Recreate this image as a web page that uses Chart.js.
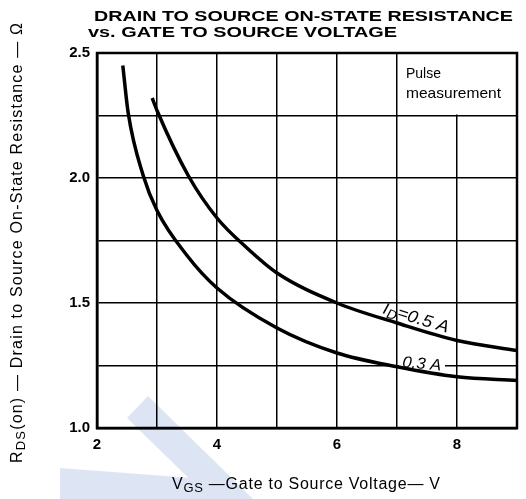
<!DOCTYPE html>
<html><head><meta charset="utf-8">
<script src="https://cdn.jsdelivr.net/npm/chart.js@4/dist/chart.umd.min.js"></script>
<style>html,body{margin:0;padding:0;background:#fff;}#wrap{width:526px;height:499px;}</style>
</head><body><div id="wrap"><canvas id="c" width="526" height="499"></canvas></div>
<script>
// ---- data ----
const vgs03 = [2.43, 2.52, 2.77, 3.0, 3.5, 4.0, 5.0, 6.0, 7.0, 8.0, 9.0];
const rds03 = [2.45, 2.26, 2.01, 1.87, 1.69, 1.56, 1.40, 1.30, 1.245, 1.205, 1.19];
const vgs05 = [2.92, 3.0, 3.52, 4.0, 4.5, 5.0, 6.0, 7.0, 8.0, 9.0];
const rds05 = [2.32, 2.27, 2.01, 1.84, 1.72, 1.62, 1.50, 1.42, 1.35, 1.31];
const xTickLabels = [2, 4, 6, 8];
const yTickLabels = [1.0, 1.5, 2.0, 2.5];
const titleLines = ['DRAIN TO SOURCE ON-STATE RESISTANCE', 'vs. GATE TO SOURCE VOLTAGE'];
const noteLines = ['Pulse', 'measurement'];
const seriesNames = ['0.3 A', '0.5 A'];

const FF = '"Liberation Sans", Arial, Helvetica, sans-serif';

// draw text pieces; width fitted either by horizontal scaling or by letter spacing
function drawParts(ctx, parts, x, y, targetW, mode) {
  ctx.letterSpacing = '0px';
  let nat = 0, n = 0;
  parts.forEach(p => { ctx.font = p.font; nat += ctx.measureText(p.t).width; n += p.t.length; });
  ctx.save();
  ctx.translate(x, y);
  if (mode === 'scale' && targetW) {
    ctx.scale(targetW / nat, 1);
  } else if (targetW) {
    ctx.letterSpacing = ((targetW - nat) / Math.max(1, n - 1)) + 'px';
  }
  let cx = 0;
  parts.forEach(p => { ctx.font = p.font; ctx.fillText(p.t, cx, p.dy || 0); cx += ctx.measureText(p.t).width; });
  ctx.letterSpacing = '0px';
  ctx.restore();
}

const decor = {
  id: 'decor',
  beforeDraw(chart) {
    const ctx = chart.ctx;
    ctx.save();
    ctx.fillStyle = '#fff';
    ctx.fillRect(0, 0, chart.width, chart.height);
    // faint watermark
    ctx.fillStyle = '#dde5f4';
    ctx.beginPath();
    ctx.moveTo(127, 418); ctx.lineTo(148, 396); ctx.lineTo(253, 499); ctx.lineTo(210, 499); ctx.closePath(); ctx.fill();
    ctx.beginPath();
    ctx.moveTo(60, 468); ctx.lineTo(192, 478); ctx.lineTo(213, 499); ctx.lineTo(60, 499); ctx.closePath(); ctx.fill();
    ctx.restore();
  },
  beforeDatasetsDraw(chart) {
    const ctx = chart.ctx, a = chart.chartArea, xs = chart.scales.x, ys = chart.scales.y;
    ctx.save();
    ctx.fillStyle = '#fff';
    ctx.fillRect(xs.getPixelForValue(7) + 1, a.top + 1, a.right - xs.getPixelForValue(7) - 2, ys.getPixelForValue(2.25) - a.top - 2);
    ctx.fillRect(399, 353, 46, 15);
    ctx.strokeStyle = '#000';
    ctx.lineWidth = 2.5;
    ctx.strokeRect(a.left, a.top, a.right - a.left, a.bottom - a.top);
    ctx.fillStyle = '#000';
    ctx.textBaseline = 'alphabetic';
    ctx.textAlign = 'left';
    // title
    drawParts(ctx, [{t: titleLines[0], font: 'bold 15px ' + FF}], 94, 21, 419, 'scale');
    drawParts(ctx, [{t: titleLines[1], font: 'bold 15px ' + FF}], 88, 37, 309, 'scale');
    // note
    drawParts(ctx, [{t: noteLines[0], font: '15px ' + FF}], 406, 78, 35, 'scale');
    drawParts(ctx, [{t: noteLines[1], font: '15px ' + FF}], 406, 98, 95, 'scale');
    // x axis title
    drawParts(ctx, [
      {t: 'V', font: '16px ' + FF},
      {t: 'GS', font: '13px ' + FF, dy: 3},
      {t: ' \u2014Gate to Source Voltage\u2014 V', font: '16px ' + FF}
    ], 172, 489, 268);
    // y axis title
    ctx.save();
    ctx.translate(16, 463);
    ctx.rotate(-Math.PI / 2);
    drawParts(ctx, [
      {t: 'R', font: '16px ' + FF},
      {t: 'DS', font: '13px ' + FF, dy: 3},
      {t: '(on) \u2014 Drain to Source On-State Resistance \u2014 \u03A9', font: '16px ' + FF}
    ], 0, 6, 440);
    ctx.restore();
    // series labels
    ctx.save();
    ctx.translate(382, 313);
    ctx.rotate(17 * Math.PI / 180);
    drawParts(ctx, [
      {t: 'I', font: 'italic 16px ' + FF},
      {t: 'D', font: 'italic 13px ' + FF, dy: 3},
      {t: '=' + seriesNames[1], font: 'italic 17px ' + FF}
    ], 0, 0, 68, 'scale');
    ctx.restore();
    ctx.save();
    ctx.translate(402, 367);
    ctx.rotate(5 * Math.PI / 180);
    drawParts(ctx, [{t: seriesNames[0], font: 'italic 16px ' + FF}], 0, 0, 39, 'scale');
    ctx.restore();
    ctx.restore();
  }
};

const toPts = (xs, ys) => xs.map((x, i) => ({x, y: ys[i]}));

new Chart(document.getElementById('c'), {
  type: 'line',
  data: {
    datasets: [
      {label: seriesNames[0], data: toPts(vgs03, rds03), borderColor: '#000', borderWidth: 3.5, pointRadius: 0, cubicInterpolationMode: 'monotone', fill: false},
      {label: seriesNames[1], data: toPts(vgs05, rds05), borderColor: '#000', borderWidth: 3.5, pointRadius: 0, cubicInterpolationMode: 'monotone', fill: false}
    ]
  },
  options: {
    responsive: false,
    animation: false,
    devicePixelRatio: 1,
    layout: {padding: {left: 0, right: 9, top: 53, bottom: 0}},
    plugins: {legend: {display: false}, tooltip: {enabled: false}, title: {display: false}},
    scales: {
      x: {
        type: 'linear', min: 2, max: 9,
        afterFit(s) { s.height = 71; },
        ticks: {stepSize: 1, autoSkip: false, maxRotation: 0, padding: 8, color: '#000',
          font: {family: FF, size: 15, weight: 'bold'},
          callback: v => xTickLabels.includes(v) ? String(v) : ''},
        grid: {color: '#000', lineWidth: 1.5, drawTicks: false},
        border: {display: true, color: '#000', width: 2.5}
      },
      y: {
        type: 'linear', min: 1, max: 2.5,
        afterFit(s) { s.width = 97; },
        ticks: {stepSize: 0.25, autoSkip: false, padding: 7, color: '#000',
          font: {family: FF, size: 15, weight: 'bold'},
          callback: v => yTickLabels.some(t => Math.abs(t - v) < 1e-6) ? v.toFixed(1) : ''},
        grid: {color: '#000', lineWidth: 1.5, drawTicks: false},
        border: {display: true, color: '#000', width: 2.5}
      }
    }
  },
  plugins: [decor]
});
</script>
</body></html>
